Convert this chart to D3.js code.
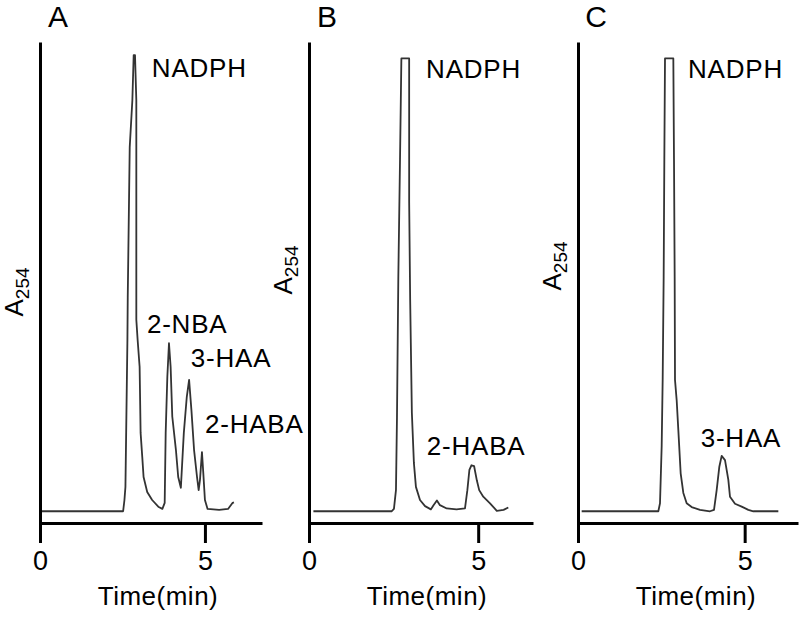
<!DOCTYPE html>
<html><head><meta charset="utf-8">
<script src="https://cdn.jsdelivr.net/npm/d3@7"></script>
<style>
html,body{margin:0;padding:0;background:#fff;}
svg{display:block;}
text{font-family:"Liberation Sans",Arial,Helvetica,sans-serif;fill:#000;}
</style></head>
<body>
<script>
// ---- data (retention time in min, absorbance in arbitrary units) ----
const timeA = [0, 2.52, 2.56, 2.59, 2.65, 2.66, 2.72, 2.80, 2.84, 2.88, 2.92, 2.92, 2.96, 3.02, 3.05, 3.10, 3.14, 3.25, 3.40, 3.60, 3.71, 3.78, 3.81, 3.86, 3.91, 3.96, 4.01, 4.12, 4.19, 4.27, 4.36, 4.45, 4.52, 4.59, 4.67, 4.76, 4.81, 4.85, 4.91, 4.95, 5.00, 5.08, 5.43, 5.70, 5.84, 5.88];
const absA  = [0, 0, 2.4, 5.2, 36.5, 45.6, 77.6, 87.6, 97.2, 97.2, 87.6, 40.8, 36.5, 30.8, 16.7, 11.6, 7.3, 4.1, 2.4, 0.9, 0.5, 1.8, 16.7, 28.6, 35.8, 30.8, 20.2, 13.1, 7.3, 5.0, 16.7, 24.4, 28.0, 21.6, 13.1, 7.3, 4.5, 6.7, 12.6, 8.2, 2.4, 0.5, 0.3, 0.5, 1.8, 1.9];

const timeB = [0.13, 2.44, 2.51, 2.57, 2.60, 2.64, 2.69, 2.73, 2.96, 2.96, 2.99, 3.04, 3.10, 3.16, 3.28, 3.43, 3.60, 3.68, 3.78, 3.87, 4.07, 4.36, 4.61, 4.68, 4.74, 4.80, 4.88, 4.96, 5.03, 5.15, 5.35, 5.55, 5.75, 5.89];
const absB  = [0, 0, 0.5, 4.5, 20, 50, 75, 96.5, 96.5, 66, 45, 21, 10.3, 5.2, 2.4, 1.1, 0.4, 1.3, 2.3, 1.3, 0.6, 0.4, 0.6, 4.5, 8.8, 9.8, 9.6, 6.6, 4.5, 3.1, 1.7, 0.1, 0.3, 0.8];

const timeC = [0.11, 2.41, 2.46, 2.51, 2.54, 2.57, 2.59, 2.61, 2.86, 2.88, 2.90, 2.91, 2.96, 3.01, 3.08, 3.16, 3.26, 3.41, 3.66, 3.96, 4.08, 4.16, 4.24, 4.31, 4.41, 4.51, 4.56, 4.71, 4.91, 5.11, 5.26, 6.01];
const absC  = [0, 0, 1.7, 13.8, 28, 50, 75, 96.5, 96.5, 75, 50, 28, 23.7, 17.3, 8.1, 3.9, 1.7, 0.9, 0.3, 0, 0.3, 4.5, 9.5, 11.8, 10.9, 6.7, 3.1, 1.6, 1.0, 0.3, 0, 0];

const panelNames = ["A", "B", "C"];
const xTickValues = [0, 5];
const xAxisTitle = "Time(min)";
const yAxisTitle = "A";
const yAxisSub = "254";

// peak labels: text, time, absorbance at label anchor
const peakNamesA = ["NADPH", "2-NBA", "3-HAA", "2-HABA"];
const peakTimeA  = [3.39, 3.24, 4.57, 5.0];
const peakAbsA   = [92.5, 38.0, 30.7, 16.7];
const peakNamesB = ["NADPH", "2-HABA"];
const peakTimeB  = [3.46, 3.48];
const peakAbsB   = [92.3, 12.0];
const peakNamesC = ["NADPH", "3-HAA"];
const peakTimeC  = [3.30, 3.68];
const peakAbsC   = [92.3, 13.7];

// ---- layout ----
const W = 800, H = 617;
const svg = d3.select("body").append("svg").attr("width", W).attr("height", H);

const panels = [
  {name: panelNames[0], t: timeA, a: absA, pn: peakNamesA, pt: peakTimeA, pa: peakAbsA, x0: 40,  x1: 262, tmax: 6.73, ylabY: 292},
  {name: panelNames[1], t: timeB, a: absB, pn: peakNamesB, pt: peakTimeB, pa: peakAbsB, x0: 309, x1: 533, tmax: 6.62, ylabY: 270},
  {name: panelNames[2], t: timeC, a: absC, pn: peakNamesC, pt: peakTimeC, pa: peakAbsC, x0: 578, x1: 798, tmax: 6.60, ylabY: 266}
];

const yBottom = 523, yTop = 42;
const y = d3.scaleLinear().domain([-2.5, 100]).range([yBottom, yTop]);

panels.forEach(p => {
  const x = d3.scaleLinear().domain([0, p.tmax]).range([p.x0, p.x1]);
  const g = svg.append("g");

  // trace
  const pts = p.t.map((t, i) => [t, p.a[i]]);
  g.append("path")
    .datum(pts)
    .attr("fill", "none")
    .attr("stroke", "#333")
    .attr("stroke-width", 1.8)
    .attr("stroke-linejoin", "round")
    .attr("d", d3.line().x(d => x(d[0])).y(d => y(d[1])));

  // y axis (line only)
  const ya = g.append("g").attr("transform", `translate(${p.x0},0)`)
    .call(d3.axisLeft(y).tickValues([]).tickSizeOuter(0));
  ya.select(".domain").attr("stroke", "#000").attr("stroke-width", 3);

  // x axis
  const xa = g.append("g").attr("transform", `translate(0,${yBottom})`)
    .call(d3.axisBottom(x).tickValues(xTickValues).tickFormat(d3.format("d"))
      .tickSizeInner(20).tickSizeOuter(0).tickPadding(8));
  xa.select(".domain").attr("stroke", "#000").attr("stroke-width", 3);
  xa.selectAll(".tick line").attr("stroke", "#000").attr("stroke-width", 3);
  xa.selectAll(".tick text").attr("font-size", 27).attr("fill", "#000")
    .attr("font-family", '"Liberation Sans",Arial,sans-serif');

  // x title
  g.append("text").attr("x", p.x0 + 118).attr("y", 605)
    .attr("text-anchor", "middle").attr("font-size", 26)
    .attr("letter-spacing", 0.5).text(xAxisTitle);

  // y title (rotated, with subscript)
  const yt = g.append("text")
    .attr("transform", `translate(${p.x0 - 17},${p.ylabY}) rotate(-90)`)
    .attr("text-anchor", "middle").attr("font-size", 26);
  yt.append("tspan").text(yAxisTitle);
  yt.append("tspan").attr("font-size", 19).attr("dy", 6).text(yAxisSub);

  // panel letter
  g.append("text").attr("x", p.x0 + 18).attr("y", 27)
    .attr("text-anchor", "middle").attr("font-size", 30).text(p.name);

  // peak labels
  p.pn.forEach((n, i) => {
    g.append("text").attr("x", x(p.pt[i])).attr("y", y(p.pa[i]))
      .attr("font-size", 26).attr("letter-spacing", 0.8).text(n);
  });
});
</script>
</body></html>
